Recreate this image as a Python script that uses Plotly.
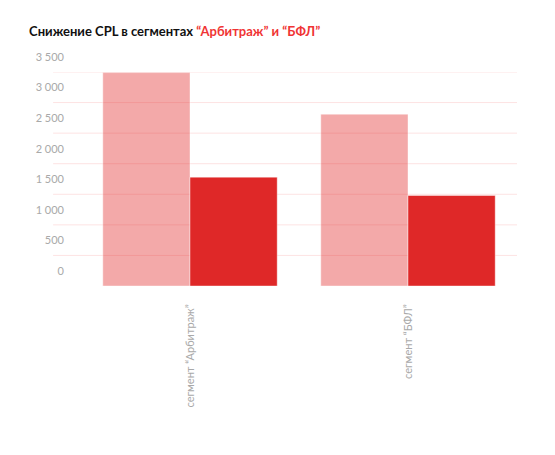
import plotly.graph_objects as go

categories = ['сегмент “Арбитраж”', 'сегмент “БФЛ”']
cpl_before = [3490, 2810]
cpl_after = [1780, 1480]
y_ticks = [0, 500, 1000, 1500, 2000, 2500, 3000, 3500]
y_tick_labels = ['0', '500', '1 000', '1 500', '2 000', '2 500', '3 000', '3 500']

fig = go.Figure()
fig.add_trace(go.Bar(
    x=categories, y=cpl_before, name='до',
    marker=dict(color='rgba(224,40,40,0.4)',
                line=dict(color='rgba(255,255,255,0.4)', width=1))
))
fig.add_trace(go.Bar(
    x=categories, y=cpl_after, name='после',
    marker=dict(color='#df2828',
                line=dict(color='rgba(255,255,255,0.4)', width=1))
))

# сетка рисуется руками, чтобы заходила левее области графика
for v in y_ticks[1:]:
    fig.add_shape(type='line', xref='paper', yref='y',
                  x0=-0.064, x1=1, y0=v, y1=v,
                  line=dict(color='#fde3e3', width=1), layer='below')

# у страницы отступ body 8px, поэтому поля сдвинуты
fig.update_layout(
    width=555, height=455,
    margin=dict(l=73, r=46, t=64, b=177),
    paper_bgcolor='white', plot_bgcolor='white',
    barmode='group', bargap=0.2, bargroupgap=0,
    showlegend=False,
    font=dict(family='Lato', color='#a9a9a9', size=11),
    title=dict(
        text='Снижение CPL в сегментах <span style="color:#f03434">“Арбитраж” и “БФЛ”</span>',
        x=0.038, xanchor='left', y=0.949, yanchor='middle',
        font=dict(family='Lato', size=13, color='#111111', weight='bold')
    ),
    xaxis=dict(range=[-0.5, 1.5], tickangle=-90, showgrid=False,
               showline=False, ticks='', ticklabelstandoff=15,
               tickfont=dict(size=11, color='#a9a9a9')),
    yaxis=dict(range=[0, 3500], tickvals=y_ticks, ticktext=y_tick_labels,
               showgrid=False, zeroline=False, showline=False, ticks='',
               ticklabelshift=-15, ticklabelstandoff=16,
               tickfont=dict(size=11, color='#a9a9a9')),
)

fig.write_html("out.html")
